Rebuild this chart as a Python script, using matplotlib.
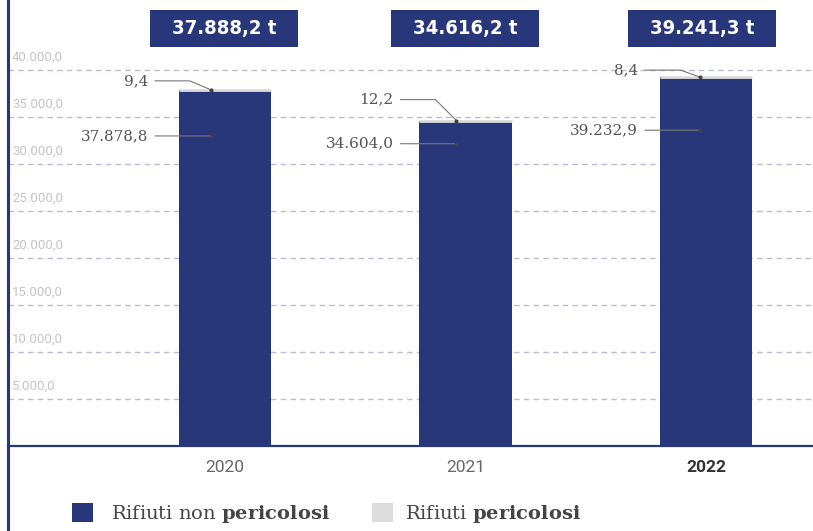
import matplotlib
matplotlib.use("Agg")
import matplotlib.pyplot as plt
from matplotlib.patches import Patch, Rectangle
from matplotlib.lines import Line2D
import matplotlib.transforms as mtransforms
from matplotlib import font_manager as fm

# ---- data ----
years = ["2020", "2021", "2022"]
non_hazardous = [37878.8, 34604.0, 39232.9]
hazardous = [9.4, 12.2, 8.4]
totals = ["37.888,2 t", "34.616,2 t", "39.241,3 t"]
non_haz_labels = ["37.878,8", "34.604,0", "39.232,9"]
haz_labels = ["9,4", "12,2", "8,4"]
yticks = [5000, 10000, 15000, 20000, 25000, 30000, 35000, 40000]
ytick_labels = ["5.000,0", "10.000,0", "15.000,0", "20.000,0", "25.000,0",
                "30.000,0", "35.000,0", "40.000,0"]

NAVY = "#283779"
GREY = "#dcdcdc"
TXT = "#555555"

plt.rcParams["mathtext.fontset"] = "custom"
plt.rcParams["mathtext.rm"] = "DejaVu Serif"
plt.rcParams["mathtext.bf"] = "DejaVu Serif:bold"

# look for a condensed sans face for the total boxes
cond = [f for f in fm.fontManager.ttflist
        if ("Condensed" in f.fname or "Narrow" in f.fname) and f.weight in ("bold", 700)]
cond_file = cond[0].fname if cond else None

W, H = 813, 531
PX = 5000 / 47  # data units per pixel
XPX = 1 / 240.5  # x data units per pixel
fig = plt.figure(figsize=(W / 100, H / 100), dpi=100)
ax = fig.add_axes([8 / W, (H - 446) / H, (W - 8) / W, 446 / H])

x = list(range(len(years)))
bw = 0.383
ax.bar(x, non_hazardous, width=bw, color=NAVY, zorder=3)
ax.bar(x, hazardous, bottom=non_hazardous, width=bw, color=GREY,
       edgecolor=GREY, linewidth=2.0, zorder=3)

ax.set_xlim(-0.902, 2.445)
ax.set_ylim(0, 47447)

for s in ["top", "right", "left"]:
    ax.spines[s].set_visible(False)
ax.spines["bottom"].set_color(NAVY)
ax.spines["bottom"].set_linewidth(1.6)

# grid
for v in yticks:
    ax.axhline(v, color="#b9bbd9", lw=1.0, ls=(0, (4, 3)), zorder=1)
ax.set_yticks([])

# y labels above gridlines
off = mtransforms.ScaledTranslation(0, 6 / 100, fig.dpi_scale_trans)
tr = mtransforms.blended_transform_factory(ax.transAxes, ax.transData) + off
for v, lab in zip(yticks, ytick_labels):
    ax.text(4 / (W - 8), v, lab, transform=tr, ha="left", va="bottom",
            fontsize=9.5, color="#c4c4c4", family="Roboto")

# x labels
ax.set_xticks(x)
ax.set_xticklabels(years, fontsize=12.5, color="#666666", family="Roboto")
ax.get_xticklabels()[-1].set_fontweight("bold")
ax.get_xticklabels()[-1].set_color("#333333")
ax.tick_params(axis="x", length=0, pad=10)

# left vertical line spanning figure height
fig.add_artist(Line2D([8 / W, 8 / W], [0, 1], transform=fig.transFigure,
                      color=NAVY, lw=2.2))

# annotations
anchor_dx = [-14, -9, -6]        # px offset of anchor point from bar centre
text_dx = [-77, -72, -68]        # px offset of label right edge from bar centre
haz_dy = [9, 21, 7]              # px above bar top for hazardous label
nonhaz_dy = [46, 23, 53]         # px below bar top for non-hazardous label
elbow_angle = [157, 135, 160]
for i in range(3):
    top = non_hazardous[i] + hazardous[i]
    xp = x[i] + anchor_dx[i] * XPX
    tx = x[i] + text_dx[i] * XPX
    # non hazardous
    my = non_hazardous[i] - nonhaz_dy[i] * PX
    ax.annotate(non_haz_labels[i], xy=(xp, my), xycoords="data",
                xytext=(tx, my), textcoords="data", ha="right", va="center",
                fontsize=11, color=TXT, family="DejaVu Serif",
                arrowprops=dict(arrowstyle="-", color="#777777", lw=0.8,
                                shrinkA=3, shrinkB=0),
                zorder=5)
    ax.plot([xp], [my], "o", ms=1.8, color="#444444", zorder=6)
    # hazardous
    ty = top + haz_dy[i] * PX
    ax.annotate(haz_labels[i], xy=(xp, top), xycoords="data",
                xytext=(tx, ty), textcoords="data", ha="right", va="center",
                fontsize=11, color=TXT, family="DejaVu Serif",
                arrowprops=dict(arrowstyle="-", color="#777777", lw=0.8,
                                shrinkA=3, shrinkB=0,
                                connectionstyle=f"angle,angleA=0,angleB={elbow_angle[i]},rad=0"),
                annotation_clip=False, zorder=5)
    ax.plot([xp], [top], "o", ms=2, color="#444444", zorder=6)

# total boxes
btr = mtransforms.blended_transform_factory(ax.transData, ax.transAxes)
box_w = 148 * XPX
box_dx = [-1, 0, -4]
for i in range(3):
    cx = x[i] + box_dx[i] * XPX
    ax.add_patch(Rectangle((cx - box_w / 2, (446 - 47) / 446), box_w, 37 / 446,
                           transform=btr, facecolor=NAVY, edgecolor="none",
                           clip_on=False, zorder=6))
    if cond_file:
        fp = fm.FontProperties(fname=cond_file, size=14.5)
    else:
        fp = fm.FontProperties(family="Roboto", weight="bold", size=14)
    ax.text(cx, (446 - 28.5) / 446, totals[i], transform=btr, ha="center",
            va="center", color="white", fontproperties=fp, zorder=7)

# legend (two separate entries to match spacing)
lprop = dict(family="DejaVu Serif", size=14)
leg1 = fig.legend([Patch(facecolor=NAVY, edgecolor="none")],
                  [r"Rifiuti non $\mathbf{pericolosi}$"],
                  loc="center left", bbox_to_anchor=(72 / W, 1 - 514 / H),
                  frameon=False, borderpad=0, borderaxespad=0,
                  handlelength=1.08, handleheight=1.08, handletextpad=0.95,
                  prop=lprop)
leg2 = fig.legend([Patch(facecolor=GREY, edgecolor="none")],
                  [r"Rifiuti $\mathbf{pericolosi}$"],
                  loc="center left", bbox_to_anchor=(372 / W, 1 - 514 / H),
                  frameon=False, borderpad=0, borderaxespad=0,
                  handlelength=1.08, handleheight=1.08, handletextpad=0.6,
                  prop=lprop)
for lg in (leg1, leg2):
    for t in lg.get_texts():
        t.set_color("#444444")

fig.savefig("out.png", dpi=100)
